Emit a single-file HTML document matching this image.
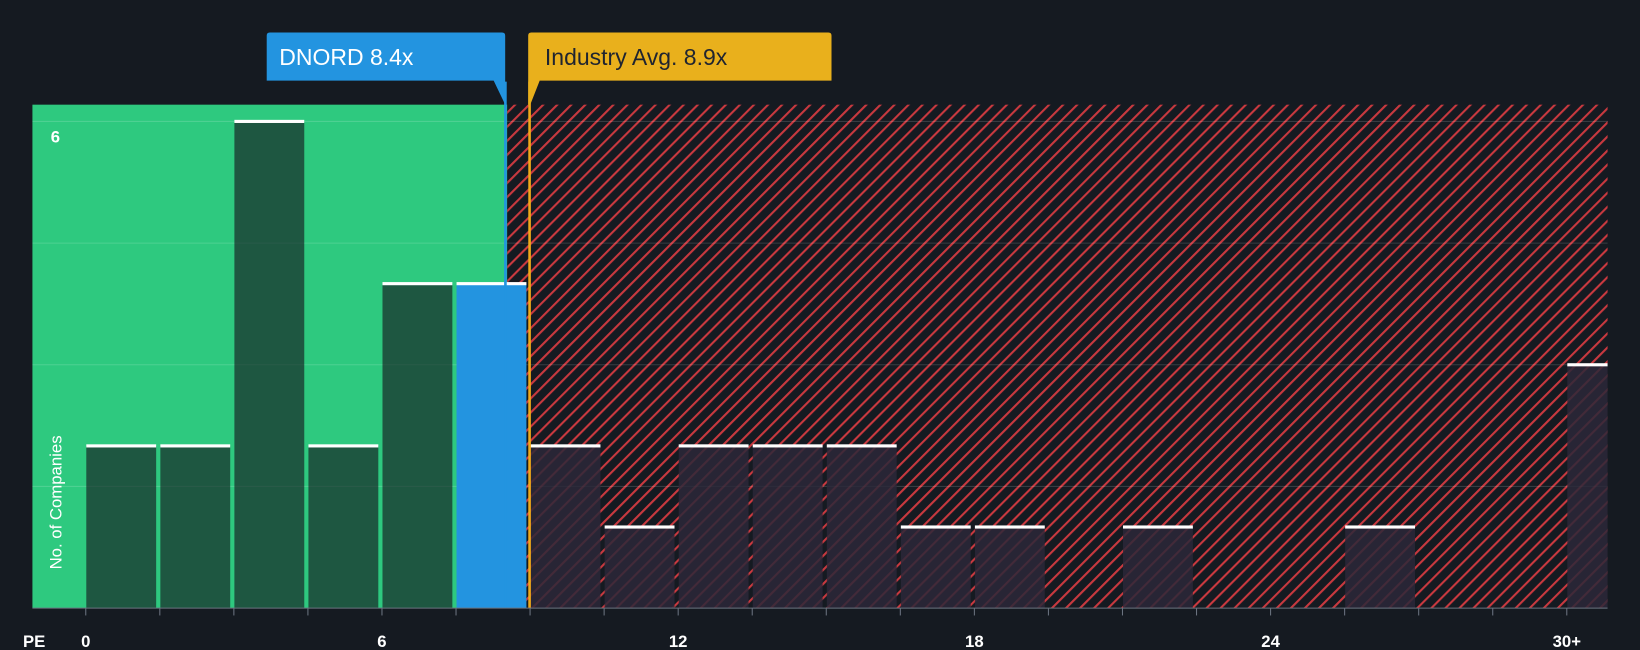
<!DOCTYPE html>
<html><head><meta charset="utf-8"><style>
html,body{margin:0;padding:0;background:#151a21;}
svg{display:block;font-family:"Liberation Sans",sans-serif;}
</style></head><body>
<svg width="1640" height="650" viewBox="0 0 1568 621" preserveAspectRatio="none" xmlns="http://www.w3.org/2000/svg">
<defs>
<pattern id="hatch" patternUnits="userSpaceOnUse" width="9.5" height="9.5" patternTransform="rotate(45)">
<rect width="9.5" height="9.5" fill="#151a21"/>
<rect x="0" y="0" width="2" height="9.5" fill="#c9393f"/>
</pattern>
<clipPath id="plotclip"><rect x="31" y="100" width="1506" height="481"/></clipPath>
</defs>
<rect width="1568" height="621" fill="#151a21"/>
<g id="bg"></g>
<g id="grid"></g>
<g id="bars" clip-path="url(#plotclip)"></g>
<g id="ann"></g>
<g id="axis"></g>
</svg>
<script>
const binCounts = [2,2,6,2,4,4,2,1,2,2,2,1,1,0,1,0,0,1,0,0,3];
const binWidth = 1.5;
const companyValue = 8.4;
const industryValue = 8.9;
const xTickValues = [0,6,12,18,24,30];
const xTickLabels = ["0","6","12","18","24","30+"];
const yMax = 6;

const NS = "http://www.w3.org/2000/svg";
const x0 = 82, pxPerUnit = 47.2, yBase = 581, yTop = 116;
const xs = v => x0 + v * pxPerUnit;
const ys = c => yBase - c * (yBase - yTop) / yMax;
function mk(tag, attrs, parent, text){const e=document.createElementNS(NS,tag);for(const k in attrs)e.setAttribute(k,attrs[k]);if(text!==undefined)e.textContent=text;parent.appendChild(e);return e;}

const bg=document.getElementById('bg');
const xCompany = xs(companyValue) + 3.5, xInd = xs(industryValue) + 3;
let g = mk('rect',{x:31,y:100,width:xCompany+3-31,height:481,fill:'#2ec97f'},bg);


let h = mk('rect',{x:xCompany+3,y:100,width:1537-xCompany-3,height:481,fill:'url(#hatch)'},bg);



const grid=document.getElementById('grid');
for(let c=1.5;c<=6;c+=1.5){
  const l=mk('line',{x1:31,x2:1537,y1:ys(c),y2:ys(c),stroke:'rgba(255,255,255,0.15)','stroke-width':1},grid);
  
  
}

const bars=document.getElementById('bars');
binCounts.forEach((c,i)=>{
  if(c===0)return;
  const bx=xs(i*binWidth)+0.5, bw=binWidth*pxPerUnit-4, by=ys(c);
  const left = bx < xCompany;
  const isCompany = (companyValue>=i*binWidth && companyValue<(i+1)*binWidth);
  const fill = isCompany ? '#2394e0' : (left ? 'rgba(21,26,33,0.65)' : 'rgba(44,40,56,0.85)');
  const r=mk('rect',{x:bx,y:by,width:bw,height:yBase-by,fill:fill},bars);
  
  
  const t=mk('rect',{x:bx,y:by-1.5,width:bw,height:3,fill:'#ffffff'},bars);
  
  
});

const ann=document.getElementById('ann');
let cl=mk('rect',{x:xCompany,y:78,width:2.5,height:503,fill:'#2394e0'},ann);


let il=mk('rect',{x:xInd,y:78,width:2.5,height:503,fill:'#f0a81a'},ann);


let cb=mk('path',{d:`M255 34 Q255 31 258 31 L480 31 Q483 31 483 34 L483 100 L472 77 L255 77 Z`,fill:'#2394e0'},ann);


let ct=mk('text',{x:267,y:62,fill:'#ffffff','font-size':22},ann,'DNORD '+companyValue+'x');


let ib=mk('path',{d:`M505 34 Q505 31 508 31 L792 31 Q795 31 795 34 L795 77 L516 77 L507 100 L505 100 Z`,fill:'#e9b01c'},ann);


let it=mk('text',{x:521,y:62,fill:'#1f2430','font-size':22},ann,'Industry Avg. '+industryValue+'x');



const axis=document.getElementById('axis');
let al=mk('line',{x1:31,x2:1537,y1:581,y2:581,stroke:'#6b7380','stroke-width':1},axis);


for(let i=0;i<=20;i++){
  const tk=mk('line',{x1:xs(i*binWidth),x2:xs(i*binWidth),y1:581,y2:588,stroke:'#6b7380','stroke-width':1},axis);
  
  
}
let pe=mk('text',{x:22,y:618,fill:'#ffffff','font-size':16,'font-weight':'bold'},axis,'PE');


xTickValues.forEach((v,i)=>{
  const t=mk('text',{x:xs(v),y:618,fill:'#ffffff','font-size':16,'font-weight':'bold','text-anchor':'middle'},axis,xTickLabels[i]);
  
  
});
let y6=mk('text',{x:53,y:136,fill:'#ffffff','font-size':16,'font-weight':'bold','text-anchor':'middle'},axis,String(yMax));


let yt=mk('text',{x:0,y:0,fill:'#ffffff','font-size':16,'text-anchor':'middle',transform:'translate(59,480) rotate(-90)'},axis,'No. of Companies');


</script>
</body></html>
